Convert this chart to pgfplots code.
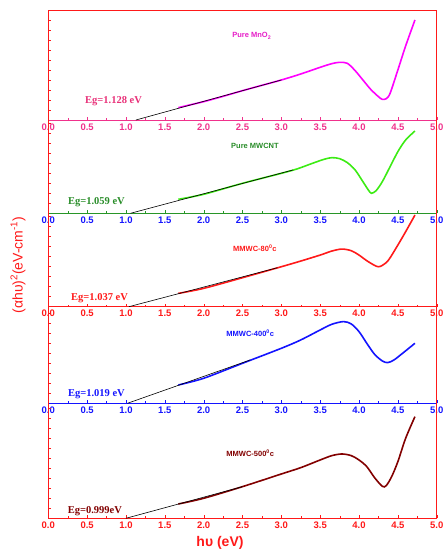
\documentclass[border=0pt]{standalone}
\usepackage{pgfplots}
\pgfplotsset{compat=1.18}
\usepackage{fontspec}
\setmainfont{Liberation Sans}
\setsansfont{Liberation Sans}
\newfontfamily\timesf{Liberation Serif}
\definecolor{cpink}{RGB}{240,50,140}
\definecolor{cEg1}{RGB}{232,48,120}
\definecolor{cmag}{RGB}{255,0,255}
\definecolor{cmagtxt}{RGB}{230,30,200}
\definecolor{cgreen}{RGB}{60,235,20}
\definecolor{cdgreen}{RGB}{40,140,40}
\definecolor{caxgreen}{RGB}{40,150,40}
\definecolor{cblue}{RGB}{20,20,255}
\definecolor{cred}{RGB}{255,25,25}
\definecolor{cdred}{RGB}{130,0,0}
\pgfplotsset{panel/.style={
  width=388.4pt, scale only axis, xmin=0, xmax=5, ymin=0,
  axis x line*=bottom, axis y line*=box,
  axis line style={-},
  y axis line style={cred, line width=0.8pt},
  xtick={0,0.5,...,5}, minor x tick num=1,
  ytick distance=30, yticklabels={}, ytick pos=left,
  ytick style={cred, line width=0.5pt},
  tick align=inside, major tick length=3pt, minor tick length=2pt,
  xticklabel style={font=\sffamily\bfseries\fontsize{9.5}{10}\selectfont,
    /pgf/number format/fixed, /pgf/number format/fixed zerofill,
    /pgf/number format/precision=1},
  /pgf/number format/assume math mode=true,
  every axis plot/.append style={smooth, line width=1.6pt},
}}
\begin{document}
\begin{tikzpicture}
\path[use as bounding box] (0,0) rectangle (443pt,-551pt);
% Panel 1
\begin{axis}[panel, at={(48.3pt,-120pt)}, anchor=south west, height=109.7pt, ymax=329,
  x axis line style={cpink, line width=0.8pt}, xtick style={cpink}, xticklabel style={text=cpink}]
\addplot[cmag] coordinates {(1.674,37)(1.8,44)(2.0,55)(2.25,71)(2.5,88)(2.75,104)(3.0,120)(3.25,138)(3.5,158)(3.65,169)(3.75,173)(3.85,170)(3.95,148)(4.05,120)(4.15,92)(4.25,70)(4.3,62)(4.35,64)(4.4,80)(4.5,150)(4.6,222)(4.72,300)};
\addplot[black, line width=0.6pt, sharp plot] coordinates {(1.128,0)(3.0,120)};
\draw[cred, line width=0.8pt] (rel axis cs:0,1) -- (rel axis cs:1,1);
\node[text=cmagtxt, font=\sffamily\bfseries\fontsize{7.5}{8}\selectfont] at (axis cs:2.62,252) {Pure MnO\textsubscript{2}};
\node[text=cEg1, font=\timesf\bfseries\fontsize{10.5}{11}\selectfont] at (axis cs:0.84,55) {Eg=1.128 eV};
\end{axis}
% Panel 2
\begin{axis}[panel, at={(48.3pt,-213.3pt)}, anchor=south west, height=93.3pt, ymax=280,
  x axis line style={caxgreen, line width=0.8pt}, xtick style={caxgreen}, xticklabel style={text=cblue}]
\addplot[cgreen] coordinates {(1.674,42)(2.0,57)(2.5,90)(3.0,120)(3.2,133)(3.4,150)(3.55,162)(3.65,167)(3.75,164)(3.85,152)(3.95,130)(4.05,95)(4.12,70)(4.16,60)(4.22,68)(4.3,95)(4.4,140)(4.5,185)(4.6,220)(4.72,247)};
\addplot[black, line width=0.6pt, sharp plot] coordinates {(1.059,0)(3.15,130)};
\node[text=cdgreen, font=\sffamily\bfseries\fontsize{7.5}{8}\selectfont] at (axis cs:2.66,202) {Pure MWCNT};
\node[text=cdgreen, font=\timesf\bfseries\fontsize{10.5}{11}\selectfont] at (axis cs:0.62,32) {Eg=1.059 eV};
\end{axis}
% Panel 3
\begin{axis}[panel, at={(48.3pt,-306.7pt)}, anchor=south west, height=93.3pt, ymax=280,
  x axis line style={cred, line width=0.8pt}, xtick style={cred}, xticklabel style={text=cred}]
\addplot[cred] coordinates {(1.674,40)(2.0,55)(2.5,87)(3.0,120)(3.25,137)(3.5,155)(3.65,167)(3.78,173)(3.9,168)(4.0,155)(4.1,138)(4.2,124)(4.25,120)(4.3,124)(4.38,140)(4.5,185)(4.6,225)(4.72,275)};
\addplot[black, line width=0.6pt, sharp plot] coordinates {(1.037,0)(2.95,117)};
\node[text=cred, font=\sffamily\bfseries\fontsize{7.5}{8}\selectfont] at (axis cs:2.66,177) {MMWC-80\textsuperscript{0}c};
\node[text=cred, font=\timesf\bfseries\fontsize{10.5}{11}\selectfont] at (axis cs:0.66,27) {Eg=1.037 eV};
\end{axis}
% Panel 4
\begin{axis}[panel, at={(48.3pt,-403.3pt)}, anchor=south west, height=96.7pt, ymax=290,
  x axis line style={cblue, line width=0.8pt}, xtick style={cblue}, xticklabel style={text=cblue}]
\addplot[cblue] coordinates {(1.674,55)(2.0,75)(2.5,120)(3.0,165)(3.25,190)(3.5,220)(3.65,237)(3.8,245)(3.9,238)(4.0,215)(4.1,180)(4.2,147)(4.3,127)(4.37,122)(4.45,130)(4.55,148)(4.72,180)};
\addplot[black, line width=0.6pt, sharp plot] coordinates {(1.019,0)(2.6,130)};
\node[text=cblue, font=\sffamily\bfseries\fontsize{7.5}{8}\selectfont] at (axis cs:2.6,210) {MMWC-400\textsuperscript{0}c};
\node[text=cblue, font=\timesf\bfseries\fontsize{10.5}{11}\selectfont] at (axis cs:0.62,27) {Eg=1.019 eV};
\end{axis}
% Panel 5
\begin{axis}[panel, at={(48.3pt,-518.3pt)}, anchor=south west, height=115pt, ymax=345,
  x axis line style={cred, line width=0.8pt}, xtick style={cred}, xticklabel style={text=cred}]
\addplot[cdred] coordinates {(1.674,43)(2.0,60)(2.5,95)(3.0,133)(3.25,152)(3.5,175)(3.65,188)(3.78,193)(3.9,188)(4.0,175)(4.1,155)(4.2,122)(4.3,96)(4.35,98)(4.42,125)(4.5,170)(4.6,240)(4.72,305)};
\addplot[black, line width=0.6pt, sharp plot] coordinates {(0.999,0)(2.5,95)};
\node[text=cdred, font=\sffamily\bfseries\fontsize{7.5}{8}\selectfont] at (axis cs:2.6,195) {MMWC-500\textsuperscript{0}c};
\node[text=cdred, font=\timesf\bfseries\fontsize{10.5}{11}\selectfont] at (axis cs:0.6,22) {Eg=0.999eV};
\end{axis}
\node[rotate=90, text=cred, font=\sffamily\fontsize{14}{15}\selectfont] at (18pt,-265pt) {(αhυ)\textsuperscript{2}(eV-cm\textsuperscript{-1})};
\node[text=cred, font=\sffamily\bfseries\fontsize{14}{15}\selectfont] at (220pt,-543pt) {hυ (eV)};
\end{tikzpicture}
\end{document}
